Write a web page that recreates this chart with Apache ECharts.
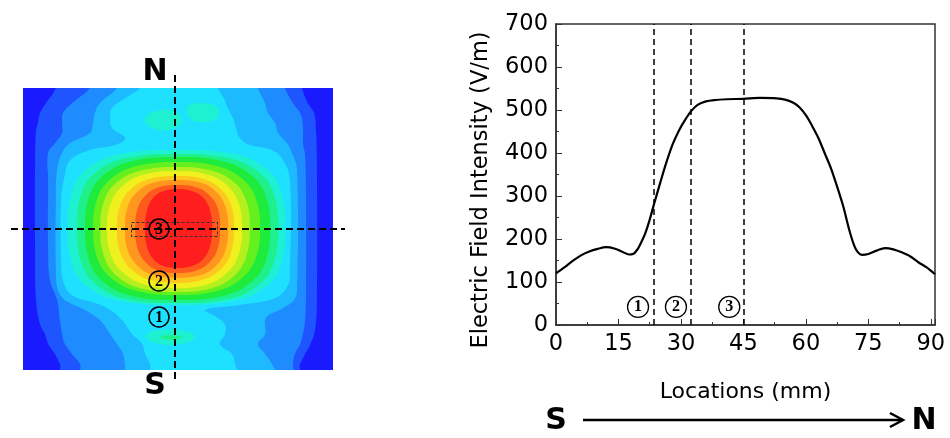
<!DOCTYPE html>
<html>
<head>
<meta charset="utf-8">
<script src="https://cdn.jsdelivr.net/npm/echarts@6.0.0/dist/echarts.min.js"></script>
<style>
  html, body { margin: 0; padding: 0; background: #fff; }
  #chart { width: 950px; height: 438px; }
</style>
</head>
<body>
<div id="chart"></div>
<script>
// contour levels of the field map, from deep blue (0) to red (14)
var levelColors = [
  '#1a1aff', '#1e55ff', '#1e8cff', '#1ebaff', '#1ee1ff',
  '#1ef0d2', '#1ef08c', '#1eeb3c', '#64f01e', '#b4f01e',
  '#f0f01e', '#ffc81e', '#ff961e', '#ff5a1e', '#ff1e1e'
]

// filled contours of the field map, in mm (map is 100 x 91 mm, N at top)
// drawn in this order, each one over the previous
var contourLevel = [0, 1, 2, 3, 4, 5, 5, 5, 6, 5, 6, 7, 8, 9, 10, 11, 12, 13, 14]
var contourPoints = [
  [[0, 0], [100, 0], [100, 91], [0, 91]],
  [[10.6, 93.5], [90.0, 93.5], [90.0, 91.0], [91.9, 86.1], [93.9, 82.9], [94.5, 77.4], [94.8, 67.7], [94.8, 22.6],
   [94.2, 12.9], [92.6, 8.1], [91.0, 5.2], [89.4, 1.9], [88.7, -1.6], [12.6, -1.6], [11.9, 1.9], [10.3, 5.2],
   [8.1, 8.4], [7.1, 11.6], [5.5, 14.8], [4.2, 22.6], [3.9, 38.7], [3.9, 67.7], [4.2, 77.4], [4.8, 79.7],
   [5.5, 82.9], [7.4, 86.1], [10.6, 91.0]],
  [[21.6, 93.5], [84.5, 93.5], [84.5, 91.0], [87.1, 86.1], [89.4, 82.9], [90.3, 79.0], [90.3, 73.2], [91.0, 69.4],
   [91.3, 54.8], [91.3, 25.8], [91.0, 16.1], [90.3, 11.6], [89.4, 8.4], [87.7, 5.2], [87.1, 1.9], [86.8, -1.6],
   [19.0, -1.6], [18.4, 1.9], [15.8, 5.2], [13.5, 8.4], [12.6, 11.6], [11.9, 16.1], [11.0, 22.6], [8.7, 29.0],
   [8.1, 38.7], [8.1, 61.3], [8.1, 70.0], [10.3, 73.2], [12.6, 76.5], [12.6, 79.7], [12.9, 82.9], [15.8, 86.1],
   [21.6, 91.0]],
  [[30.3, 93.5], [75.8, 93.5], [75.8, 91.0], [78.1, 86.1], [79.0, 82.9], [81.3, 79.7], [82.3, 76.5], [85.2, 73.2],
   [86.8, 70.0], [88.4, 64.5], [88.4, 25.8], [87.4, 22.6], [83.9, 20.0], [78.4, 16.8], [78.1, 11.6], [75.8, 8.4],
   [78.1, 5.2], [80.3, 1.9], [81.3, -1.6], [33.5, -1.6], [32.9, 1.9], [32.3, 5.2], [30.3, 8.4], [28.1, 11.6],
   [24.8, 16.1], [20.0, 19.4], [13.5, 22.6], [11.3, 25.8], [10.6, 32.3], [10.6, 54.8], [11.0, 64.5], [12.6, 70.0],
   [15.2, 73.2], [21.6, 76.5], [22.6, 79.7], [23.2, 82.9], [24.8, 86.1], [30.3, 91.0]],
  [[37.7, 93.5], [62.9, 93.5], [62.9, 91.0], [64.8, 87.7], [66.1, 84.5], [67.7, 81.3], [68.7, 78.1], [70.0, 74.8],
   [73.2, 72.6], [80.3, 71.0], [83.9, 67.7], [86.1, 61.3], [86.1, 32.3], [85.5, 27.4], [81.3, 23.2], [70.0, 21.0],
   [58.7, 19.4], [61.9, 17.4], [65.2, 14.5], [65.2, 11.6], [63.5, 8.4], [67.4, 5.2], [68.4, 1.9], [69.0, -1.6],
   [41.6, -1.6], [41.0, 1.9], [39.4, 5.2], [38.4, 8.4], [35.2, 11.6], [31.9, 16.1], [28.1, 19.4], [23.2, 21.6],
   [15.8, 24.2], [12.9, 29.0], [12.3, 35.5], [12.3, 54.8], [13.5, 62.9], [15.2, 67.7], [21.6, 71.0], [29.7, 72.6],
   [33.0, 74.8], [28.7, 78.1], [28.1, 81.3], [28.7, 84.5], [32.9, 87.7], [37.7, 91.0]],
  [[39.4, 81.3], [44.2, 83.9], [50.0, 82.9], [51.3, 80.0], [46.8, 77.4], [41.0, 78.4]],
  [[53.2, 85.2], [58.7, 86.1], [62.9, 84.5], [62.3, 81.0], [57.1, 80.0], [53.5, 81.6]],
  [[39.4, 11.0], [44.2, 12.9], [52.3, 12.6], [55.5, 10.6], [50.6, 8.4], [42.6, 8.7]],
  [[44.2, 10.6], [47.4, 11.3], [51.3, 10.6], [47.4, 9.7]],
  [[49.7, 71.0], [68.0, 69.7], [77.3, 65.8], [82.7, 59.1], [84.5, 45.8], [82.7, 32.7], [77.3, 26.1], [68.0, 22.3],
   [49.7, 21.0], [31.2, 22.3], [21.8, 26.1], [16.3, 32.7], [14.5, 45.8], [16.3, 59.1], [21.8, 65.8], [31.2, 69.7]],
  [[49.7, 69.7], [66.1, 68.4], [75.2, 64.5], [80.5, 57.9], [82.3, 45.8], [80.5, 33.6], [75.2, 26.9], [66.1, 22.9],
   [49.7, 21.6], [33.4, 22.9], [24.5, 26.9], [19.2, 33.6], [17.4, 45.8], [19.2, 57.9], [24.5, 64.5], [33.4, 68.4]],
  [[49.7, 68.7], [64.4, 67.4], [72.9, 63.5], [78.0, 57.0], [79.7, 45.8], [78.0, 34.4], [72.9, 27.8], [64.4, 23.9],
   [49.7, 22.6], [35.1, 23.9], [26.7, 27.8], [21.7, 34.4], [20.0, 45.8], [21.7, 57.0], [26.7, 63.5], [35.1, 67.4]],
  [[49.7, 67.1], [62.5, 65.8], [70.2, 62.1], [74.9, 56.0], [76.5, 45.8], [74.9, 35.5], [70.2, 29.3], [62.5, 25.5],
   [49.7, 24.2], [36.8, 25.5], [28.9, 29.3], [24.2, 35.5], [22.6, 45.8], [24.2, 56.0], [28.9, 62.1], [36.8, 65.8]],
  [[49.7, 65.5], [60.9, 64.3], [67.7, 60.9], [71.8, 55.2], [73.2, 45.8], [71.8, 36.0], [67.7, 30.0], [60.9, 26.4],
   [49.7, 25.2], [37.9, 26.4], [30.7, 30.0], [26.4, 36.0], [24.9, 45.8], [26.4, 55.2], [30.7, 60.9], [37.9, 64.3]],
  [[49.7, 64.2], [59.4, 63.1], [65.6, 59.8], [69.4, 54.3], [70.7, 45.8], [69.4, 36.8], [65.6, 31.1], [59.4, 27.6],
   [49.7, 26.4], [39.2, 27.6], [32.6, 31.1], [28.5, 36.8], [27.1, 45.8], [28.5, 54.3], [32.6, 59.8], [39.2, 63.1]],
  [[49.7, 62.6], [58.2, 61.6], [63.7, 58.5], [67.0, 53.6], [68.1, 45.8], [67.0, 37.6], [63.7, 32.4], [58.2, 29.2],
   [49.7, 28.1], [40.7, 29.2], [35.0, 32.4], [31.5, 37.6], [30.3, 45.8], [31.5, 53.6], [35.0, 58.5], [40.7, 61.6]],
  [[49.7, 61.3], [57.4, 60.4], [62.2, 57.6], [65.2, 53.0], [66.2, 45.8], [65.2, 38.3], [62.2, 33.6], [57.4, 30.7],
   [49.7, 29.7], [41.9, 30.7], [37.0, 33.6], [33.9, 38.3], [32.9, 45.8], [33.9, 53.0], [37.0, 57.6], [41.9, 60.4]],
  [[49.7, 59.7], [56.2, 58.9], [60.2, 56.3], [62.8, 52.3], [63.6, 45.8], [62.8, 39.1], [60.2, 34.8], [56.2, 32.2],
   [49.7, 31.3], [43.4, 32.2], [39.5, 34.8], [37.0, 39.1], [36.2, 45.8], [37.0, 52.3], [39.5, 56.3], [43.4, 58.9]],
  [[49.7, 58.4], [54.9, 57.6], [58.3, 55.4], [60.3, 51.6], [61.0, 45.8], [60.3, 39.8], [58.3, 36.0], [54.9, 33.7],
   [49.7, 32.9], [44.9, 33.7], [41.9, 36.0], [40.0, 39.8], [39.4, 45.8], [40.0, 51.6], [41.9, 55.4], [44.9, 57.6]]
]

// line profile S -> N
var locations = [0, 2, 4, 6, 8, 10, 12, 14, 16, 17.5, 18.5, 19.5, 20.5, 21.5, 22.5, 23.5,
  25, 26.5, 28, 29.5, 31, 32.5, 34, 36, 38, 41, 45, 49, 53, 55, 57, 58.5, 60, 61.5,
  63, 64.5, 66, 67.5, 69, 70.5, 72, 73.5, 75, 77, 79, 81, 83, 85, 87, 89, 91]
var intensity = [120, 134, 149, 162, 171, 177, 181, 178, 170, 164, 165, 175, 193, 215, 245, 280,
  330, 378, 420, 452, 477, 498, 512, 520, 523, 525, 526, 528, 527, 524, 517, 506, 488, 463,
  435, 400, 365, 322, 275, 218, 176, 163, 165, 173, 179, 176, 169, 160, 146, 134, 118]

var dashLocations = [23.4, 32.3, 45]
var pointLocations = [19.7, 28.8, 41.6]
var pointLevel = 42
var pointLabels = ['1', '2', '3']

var font = 'DejaVu Sans'
var dash = { stroke: '#000', lineWidth: 2, lineDash: [7, 4] }
var mapCircles = [[159, 229, '3'], [159, 281, '2'], [159, 317, '1']]

var graphics = [
  { type: 'line', z: 20, shape: { x1: 175, y1: 75, x2: 175, y2: 382 }, style: dash },
  { type: 'line', z: 20, shape: { x1: 11, y1: 229, x2: 345, y2: 229 }, style: dash },
  { type: 'rect', z: 20, shape: { x: 131.5, y: 222.5, width: 86, height: 14 },
    style: { fill: 'none', stroke: '#333', lineWidth: 1, lineDash: [3, 2] } },
  { type: 'text', z: 20, x: 155, y: 72, style: { text: 'N', font: 'bold 30px "DejaVu Sans"', fill: '#000', align: 'center', verticalAlign: 'middle' } },
  { type: 'text', z: 20, x: 155, y: 386, style: { text: 'S', font: 'bold 30px "DejaVu Sans"', fill: '#000', align: 'center', verticalAlign: 'middle' } },
  // y axis title, sits a little below the plot middle in the original
  { type: 'text', x: 481, y: 190, rotation: Math.PI / 2,
    style: { text: 'Electric Field Intensity (V/m)', font: '22.5px "DejaVu Sans"', fill: '#000', align: 'center', verticalAlign: 'middle' } },
  // S -> N arrow under the profile
  { type: 'text', x: 556, y: 421, style: { text: 'S', font: 'bold 30px "DejaVu Sans"', fill: '#000', align: 'center', verticalAlign: 'middle' } },
  { type: 'text', x: 924, y: 421, style: { text: 'N', font: 'bold 30px "DejaVu Sans"', fill: '#000', align: 'center', verticalAlign: 'middle' } },
  { type: 'line', shape: { x1: 583, y1: 420, x2: 903, y2: 420 }, style: { stroke: '#000', lineWidth: 2.5 } },
  { type: 'polyline', shape: { points: [[890, 413], [903, 420], [890, 427]] }, style: { stroke: '#000', lineWidth: 2.5, fill: 'none' } }
]
mapCircles.forEach(function (c) {
  graphics.push({ type: 'circle', z: 21, shape: { cx: c[0], cy: c[1], r: 10 },
    style: { fill: 'none', stroke: '#000', lineWidth: 1.5 } })
  graphics.push({ type: 'text', z: 21, x: c[0], y: c[1] + 1,
    style: { text: c[2], font: 'bold 16px "Liberation Serif"', fill: '#000', align: 'center', verticalAlign: 'middle' } })
})

var chart = echarts.init(document.getElementById('chart'))
var option = {
  animation: false,
  backgroundColor: '#fff',
  grid: [
    { left: 23, top: 88, width: 310, height: 282 },
    { left: 556, top: 24, width: 379, height: 301, show: true, borderColor: '#333', borderWidth: 1.5 }
  ],
  xAxis: [
    { gridIndex: 0, type: 'value', min: 0, max: 100, show: false },
    {
      gridIndex: 1, type: 'value', min: 0, max: 91, interval: 15,
      name: 'Locations (mm)', nameLocation: 'middle', nameGap: 56,
      nameTextStyle: { fontFamily: font, fontSize: 22, color: '#000' },
      axisLine: { lineStyle: { color: '#333', width: 1.5 } },
      axisTick: { inside: true, length: 6, lineStyle: { color: '#333' } },
      minorTick: { show: true, splitNumber: 2, length: 3, lineStyle: { color: '#333' } },
      splitLine: { show: false },
      axisLabel: { margin: 8, showMaxLabel: false, fontFamily: font, fontSize: 22.5, color: '#000' }
    }
  ],
  yAxis: [
    { gridIndex: 0, type: 'value', min: 0, max: 91, show: false },
    {
      gridIndex: 1, type: 'value', min: 0, max: 700, interval: 100,
      axisLine: { show: true, lineStyle: { color: '#333', width: 1.5 } },
      axisTick: { inside: true, length: 6, lineStyle: { color: '#333' } },
      minorTick: { show: true, splitNumber: 2, length: 3, lineStyle: { color: '#333' } },
      splitLine: { show: false },
      axisLabel: { margin: 8, fontFamily: font, fontSize: 22.5, color: '#000' }
    }
  ],
  graphic: graphics,
  series: [
    {
      type: 'custom', coordinateSystem: 'cartesian2d', xAxisIndex: 0, yAxisIndex: 0,
      clip: true, silent: true,
      data: contourLevel.map(function (lv, k) { return [k, lv] }),
      renderItem: function (params, api) {
        var k = params.dataIndex
        var pts = contourPoints[k].map(function (p) { return api.coord(p) })
        return {
          type: 'polygon',
          shape: { points: pts, smooth: k === 0 ? 0 : 0.4 },
          style: { fill: levelColors[contourLevel[k]] }
        }
      }
    },
    {
      type: 'line', xAxisIndex: 1, yAxisIndex: 1, silent: true,
      data: locations.map(function (x, k) { return [x, intensity[k]] }),
      smooth: 0.3, showSymbol: false,
      lineStyle: { color: '#000', width: 2.2 },
      markLine: {
        silent: true, symbol: ['none', 'none'], label: { show: false },
        lineStyle: { color: '#000', type: [6, 4], width: 1.5 },
        data: dashLocations.map(function (v) { return { xAxis: v } })
      }
    },
    {
      type: 'scatter', xAxisIndex: 1, yAxisIndex: 1, silent: true,
      data: pointLocations.map(function (x, k) { return [x, pointLevel, pointLabels[k]] }),
      symbolSize: 21,
      itemStyle: { color: 'rgba(255,255,255,0)', borderColor: '#000', borderWidth: 1.3, opacity: 1 },
      label: {
        show: true, position: 'inside', formatter: function (p) { return p.value[2] },
        fontFamily: 'Liberation Serif', fontWeight: 'bold', fontSize: 16, color: '#000'
      }
    }
  ]
}
chart.setOption(option)
</script>
</body>
</html>
